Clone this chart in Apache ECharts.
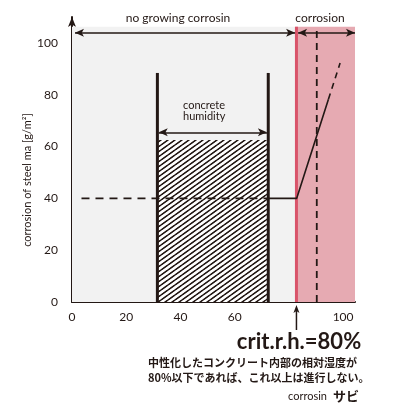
<!DOCTYPE html>
<html>
<head>
<meta charset="utf-8">
<script src="https://cdn.jsdelivr.net/npm/echarts@6/dist/echarts.min.js"></script>
<style>
html,body{margin:0;padding:0;background:#fff;}
#c{width:400px;height:410px;}
</style>
</head>
<body>
<div id="c"></div>
<script>
// ---- data ----
const xTickLabels = [0, 20, 40, 60, 100];
const yTickLabels = [0, 20, 40, 60, 80, 100];
const xMax = 104.4;
const yMax = 110;
const regionTop = 106.2;           // top of shaded regions
const critX = 82.8;                // critical relative humidity line
const noGrowRegion = [0, 82.3];    // grey region x-range
const corrosionRegion = [82.3, 104.4];
const topArrowY = 103.9;
const noGrowArrowX = [1.1, 82.3];
const corrosionArrowX = [83.4, 104.4];
const wallX = [31.5, 72.4];        // concrete humidity walls
const wallTop = 88.4;
const hatchTop = 62.5;
const humidityArrowY = 65.5;
const corrosionDashX = 90.3;
const dashedBaseX = [3.5, 72.4];
const dashedBaseY = [40, 40];
const solidX = [72.4, 82.9, 94.6];
const solidY = [40, 40, 78.3];
const extX = [94.6, 98.9];
const extY = [78.3, 92.2];

const INK = '#231815';
const FONT = 'Lato, "Open Sans", sans-serif';
const JP = '"Noto Sans CJK JP", sans-serif';

function pairs(xs, ys){ return xs.map((x,i)=>[x, ys[i]]); }

// hatch pattern tile
const tile = document.createElement('canvas');
tile.width = 7; tile.height = 5;
(function(){
  const g = tile.getContext('2d');
  g.fillStyle = '#ffffff'; g.fillRect(0,0,7,5);
  g.strokeStyle = INK; g.lineWidth = 1.25;
  [[-7,5,7,-5],[0,5,7,0],[0,10,14,0],[-7,10,7,0]].forEach(function(l){
    g.beginPath(); g.moveTo(l[0],l[1]); g.lineTo(l[2],l[3]); g.stroke();
  });
  g.beginPath(); g.moveTo(-7,5); g.lineTo(0,0); g.stroke();
  g.beginPath(); g.moveTo(7,5); g.lineTo(14,0); g.stroke();
})();

const chart = echarts.init(document.getElementById('c'), null, {renderer:'canvas'});

const lineBase = {type:'line', symbol:'none', silent:true, animation:false, clip:false};

const option = {
  animation:false,
  backgroundColor:'#ffffff',
  grid:{left:72, right:45, top:17, bottom:108},
  xAxis:{
    type:'value', min:0, max:xMax,
    axisLine:{show:true, lineStyle:{color:INK, width:2}},
    axisTick:{show:false},
    splitLine:{show:false},
    axisLabel:{customValues:xTickLabels, color:INK, fontSize:12, fontFamily:FONT, margin:9}
  },
  yAxis:{
    type:'value', min:0, max:yMax,
    axisLine:{show:true, symbol:['none','arrow'], symbolSize:[6,10], lineStyle:{color:INK, width:2}},
    axisTick:{show:true, inside:true, length:5, customValues:yTickLabels, lineStyle:{color:INK, width:1.5}},
    splitLine:{show:false},
    axisLabel:{customValues:yTickLabels, color:INK, fontSize:12, fontFamily:FONT, margin:14}
  },
  series:[
    Object.assign({}, lineBase, {
      data:[], z:0,
      markArea:{silent:true, data:[
        [{coord:[noGrowRegion[0],0], itemStyle:{color:'#f2f2f2'}},{coord:[noGrowRegion[1],regionTop]}],
        [{coord:[corrosionRegion[0],0], itemStyle:{color:'#e6aab2'}},{coord:[corrosionRegion[1],regionTop]}]
      ]}
    }),
    {
      type:'custom', silent:true, z:2, clip:false,
      data:[[wallX[0], wallX[1], hatchTop]],
      renderItem:function(params, api){
        const p0 = api.coord([api.value(0), 0]);
        const p1 = api.coord([api.value(1), api.value(2)]);
        return {
          type:'rect',
          shape:{x:p0[0], y:p1[1], width:p1[0]-p0[0], height:p0[1]-p1[1]},
          style:{fill:{image:tile, repeat:'repeat'}}
        };
      }
    },
    Object.assign({}, lineBase, {z:3, data:[[critX,0],[critX,regionTop]], lineStyle:{color:'#d9546a', width:3}}),
    Object.assign({}, lineBase, {z:4, data:[[corrosionDashX,0],[corrosionDashX,regionTop]], lineStyle:{color:INK, width:1.8, type:[7,5]}}),
    Object.assign({}, lineBase, {z:5, data:[[wallX[0],0],[wallX[0],wallTop]], lineStyle:{color:INK, width:3}}),
    Object.assign({}, lineBase, {z:5, data:[[wallX[1],0],[wallX[1],wallTop]], lineStyle:{color:INK, width:3}}),
    Object.assign({}, lineBase, {z:6, data:pairs(dashedBaseX, dashedBaseY), lineStyle:{color:INK, width:1.6, type:[8,6]}}),
    Object.assign({}, lineBase, {z:6, data:pairs(solidX, solidY), lineStyle:{color:INK, width:1.6}}),
    Object.assign({}, lineBase, {z:6, data:pairs(extX, extY), lineStyle:{color:INK, width:1.6, type:[6,5]}}),
    Object.assign({}, lineBase, {
      data:[], z:7,
      markLine:{
        silent:true, symbol:['arrow','arrow'], symbolSize:[6,9],
        label:{show:false},
        lineStyle:{color:INK, width:1.6, type:'solid'},
        data:[
          [{coord:[noGrowArrowX[0],topArrowY]},{coord:[noGrowArrowX[1],topArrowY]}],
          [{coord:[corrosionArrowX[0],topArrowY]},{coord:[corrosionArrowX[1],topArrowY]}],
          [{coord:[wallX[0]+0.5,humidityArrowY]},{coord:[wallX[1]-0.5,humidityArrowY]}]
        ]
      }
    })
  ]
};
chart.setOption(option);

const base = chart.convertToPixel({gridIndex:0}, [critX, 0]);
const T = function(x,y,text,extra){
  return {type:'text', x:x, y:y, silent:true, z:20,
    style:Object.assign({text:text, fill:INK, font:'12px '+FONT, align:'center', verticalAlign:'middle'}, extra||{})};
};
chart.setOption({
  graphic:[
    {type:'line', silent:true, z:20, shape:{x1:base[0], y1:base[1]+28, x2:base[0], y2:base[1]+9}, style:{stroke:INK, lineWidth:1.5}},
    {type:'polygon', silent:true, z:20, shape:{points:[[base[0],base[1]+3],[base[0]-3,base[1]+11],[base[0],base[1]+9],[base[0]+3,base[1]+11]]}, style:{fill:INK}},
    T(178,18,'no growing corrosin'),
    T(320,18,'corrosion'),
    T(183,105.5,'concrete',{align:'left', font:'11px '+FONT}),
    T(183,116,'humidity',{align:'left', font:'11px '+FONT}),
    {type:'text', x:27, y:180, rotation:Math.PI/2, silent:true, z:20,
      style:{text:'corrosion of steel ma [g/m²]', fill:INK, font:'11px '+FONT, align:'center', verticalAlign:'middle'}},
    T(299,342,'crit.r.h.=80%',{font:'bold 22px '+FONT}),
    T(148,363,'中性化したコンクリート内部の相対湿度が',{align:'left', font:'bold 11px '+JP}),
    T(148,378,'80%以下であれば、これ以上は進行しない。',{align:'left', font:'bold 11px '+JP}),
    T(327,396,'corrosin',{align:'right', font:'11px '+FONT}),
    T(333,396,'サビ',{align:'left', font:'bold 13px '+JP})
  ]
});
</script>
</body>
</html>
